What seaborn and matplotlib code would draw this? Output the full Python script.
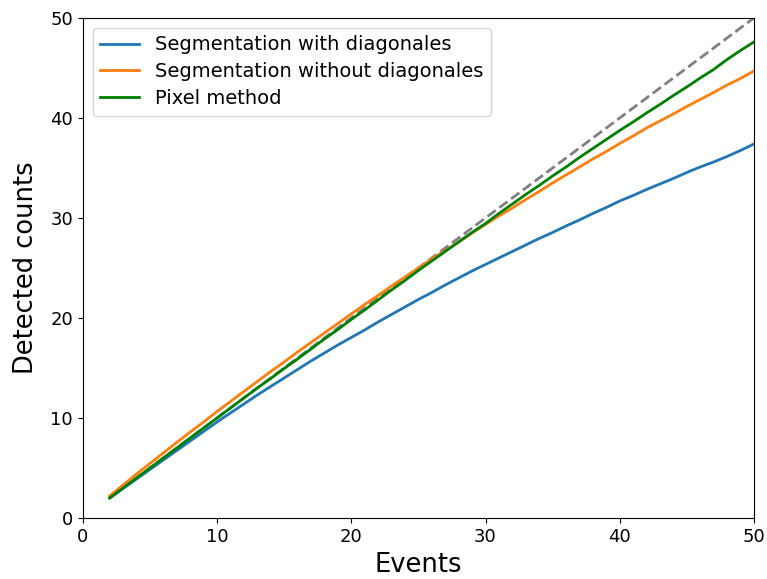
import matplotlib
matplotlib.use("Agg")
import matplotlib.pyplot as plt
import seaborn as sns
import pandas as pd

events = list(range(2, 51))
seg_diag = [2.0, 2.95, 3.9, 4.85, 5.8, 6.75, 7.7, 8.65, 9.6, 10.5, 11.4, 12.3, 13.15, 14.0,
            14.85, 15.7, 16.5, 17.3, 18.05, 18.8, 19.6, 20.35, 21.1, 21.85, 22.55, 23.3, 24.0,
            24.7, 25.35, 26.0, 26.65, 27.3, 27.95, 28.55, 29.2, 29.8, 30.45, 31.05, 31.7, 32.25,
            32.85, 33.4, 33.95, 34.55, 35.1, 35.6, 36.15, 36.75, 37.4]
seg_nodiag = [2.2, 3.3, 4.4, 5.45, 6.5, 7.55, 8.6, 9.6, 10.65, 11.65, 12.65, 13.65, 14.65, 15.6,
              16.6, 17.55, 18.5, 19.45, 20.4, 21.35, 22.25, 23.2, 24.1, 25.0, 25.9, 26.75, 27.6,
              28.5, 29.35, 30.2, 31.0, 31.85, 32.65, 33.5, 34.3, 35.1, 35.9, 36.65, 37.45, 38.2,
              39.0, 39.7, 40.4, 41.15, 41.85, 42.55, 43.3, 43.95, 44.7]
pixel = [2.0, 3.0, 4.0, 5.0, 6.0, 7.0, 8.0, 9.0, 10.0, 11.0, 12.0, 13.0, 13.95, 14.95, 15.9,
         16.9, 17.9, 18.85, 19.85, 20.8, 21.8, 22.8, 23.75, 24.75, 25.7, 26.65, 27.6, 28.55,
         29.45, 30.45, 31.4, 32.35, 33.25, 34.2, 35.1, 36.05, 36.95, 37.85, 38.75, 39.6, 40.5,
         41.35, 42.25, 43.1, 44.0, 44.85, 45.85, 46.75, 47.6]
ideal_x = [2, 50]
ideal_y = [2, 50]

labels = ["Segmentation with diagonales", "Segmentation without diagonales", "Pixel method"]
colors = ["#1f77b4", "#ff7f0e", "green"]

fig = plt.figure(figsize=(7.67, 5.79), dpi=100)
ax = fig.add_axes([0.108, 0.1054, 0.875, 0.8636])

ax.plot(ideal_x, ideal_y, linestyle="--", color="gray", linewidth=2)
for ys, lab, c in zip([seg_diag, seg_nodiag, pixel], labels, colors):
    df = pd.DataFrame({"x": events, "y": ys})
    sns.lineplot(data=df, x="x", y="y", ax=ax, color=c, linewidth=2, label=lab)

ax.set_xlim(0, 50)
ax.set_ylim(0, 50)
ax.set_xticks([0, 10, 20, 30, 40, 50])
ax.set_yticks([0, 10, 20, 30, 40, 50])
ax.tick_params(labelsize=13)
ax.set_xlabel("Events", fontsize=18.5, labelpad=4.5)
ax.set_ylabel("Detected counts", fontsize=18.5, labelpad=8)
ax.legend(loc="upper left", fontsize=14, labelspacing=0.4)

fig.savefig("out.png", dpi=100)
